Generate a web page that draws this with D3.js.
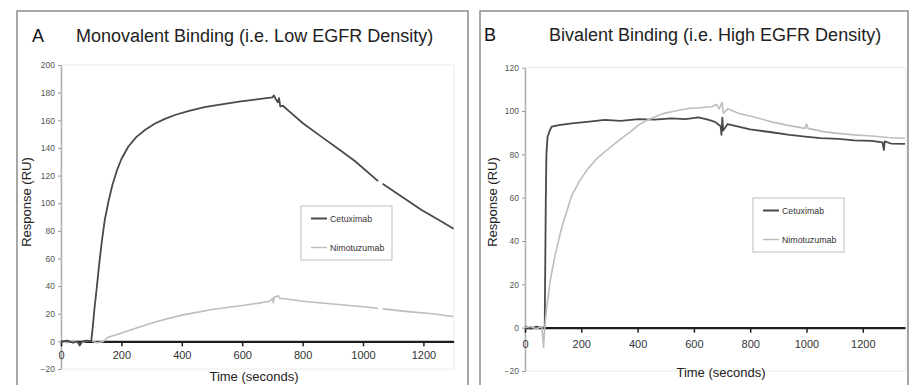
<!DOCTYPE html>
<html><head><meta charset="utf-8">
<script src="https://cdn.jsdelivr.net/npm/d3@7"></script>
<style>
html,body{margin:0;padding:0;background:#fff;}
svg{display:block;font-family:"Liberation Sans",Arial,sans-serif;}
</style></head>
<body><svg id="chart" width="911" height="385"></svg>
<script>
// ---------- data ----------
const seriesNames = ["Cetuximab", "Nimotuzumab"];
const xTicks = [0, 200, 400, 600, 800, 1000, 1200];
const yTicksA = [-20, 0, 20, 40, 60, 80, 100, 120, 140, 160, 180, 200];
const yTicksB = [-20, 0, 20, 40, 60, 80, 100, 120];

// Panel A: Monovalent binding (time s, response RU); null = gap
const cetuximabA_t = [0,20,40,55,62,70,85,100,105,110,118,126,135,145,157,170,184,200,223,250,278,310,344,380,421,475,532,590,642,680,700,705,712,718,722,726,735,753,800,863,920,973,1050,1058,1065,1130,1194,1250,1300];
const cetuximabA_v = [0,0.5,-1,0,-3,0,0.5,0,10,22,38,55,72,88,101,113,123,132,141,148,153,157.5,161,164,166.7,169.5,171.5,173.5,175,176,176.5,178,175,173,176,170,170.5,167,158,148,139,130.5,116,null,114,104.5,95,88,81.5];
const nimotuzumabA_t = [0,20,40,60,80,100,120,140,157,200,240,311,400,500,600,650,690,700,703,706,720,725,735,800,900,1000,1050,1058,1065,1150,1230,1300];
const nimotuzumabA_v = [0,-1,0.5,-2,0,0.5,-1,0,3,6,9,14,19,23,26,27.5,29,31,28,32,33,31,31,29,27,25,24,null,23.5,21.5,20,18];

// Panel B: Bivalent binding
const cetuximabB_t = [0,20,40,60,70,72,74,76,80,88,95,120,166,220,284,340,403,460,521,570,616,650,675,695,698,701,704,720,758,800,876,940,995,1050,1113,1170,1232,1270,1275,1278,1300,1350];
const cetuximabB_v = [0.5,-0.5,0.5,0,0,30,60,80,88,91,92.8,93.5,94.3,95,95.9,95.5,96.3,96,96.6,96.3,97.1,96,95,93,89,97,91,94,92.8,91.5,90.2,89,88.2,87.5,87.1,86.5,86.2,85.5,82,86,85,84.8];
const nimotuzumabB_t = [0,20,40,60,66,70,77,90,107,130,166,195,225,255,284,315,343,375,403,430,462,490,521,550,580,620,663,680,690,700,705,720,758,820,876,930,995,1000,1005,1060,1113,1170,1232,1290,1350];
const nimotuzumabB_v = [0,0.5,-0.5,0.5,-9,0,9,22,33.5,46,61,68,73.6,78,81.2,84.5,87.4,90.5,93.5,95.5,97.4,98.8,99.7,100.5,101.2,101.5,102,103,101,104,99,101,99,97,95,93.5,92,94,92,90.5,89.7,89,88.5,87.8,87.4];

const colors = {Cetuximab: "#4a4a4a", Nimotuzumab: "#bdbdbd"};

const svg = d3.select("#chart");

function zip(ts, vs){ return ts.map((t,i)=>({t:t, v:vs[i]})); }

function drawPanel(p){
  const g = svg.append("g");
  g.append("rect").attr("x",p.box[0]).attr("y",p.box[1]).attr("width",p.box[2]-p.box[0]).attr("height",p.box[3]-p.box[1])
    .attr("fill","none").attr("stroke","#8a8a8a").attr("stroke-width",1.5);
  g.append("text").attr("x",p.letterX).attr("y",p.titleY).attr("font-size",18).attr("fill","#111").text(p.letter);
  g.append("text").attr("x",p.titleX).attr("y",p.titleY).attr("font-size",18).attr("fill","#222").text(p.title);

  const x = d3.scaleLinear().domain([0,p.xMax]).range(p.xRange);
  const y = d3.scaleLinear().domain([p.yTicks[0], p.yTicks[p.yTicks.length-1]]).range(p.yRange);

  g.append("rect").attr("x",x(0)).attr("y",y.range()[1]).attr("width",p.plotRight-x(0)).attr("height",y.range()[0]-y.range()[1])
    .attr("fill","none").attr("stroke","#ececec").attr("stroke-width",1);

  const ya = g.append("g").attr("transform",`translate(${x(0)},0)`)
    .call(d3.axisLeft(y).tickValues(p.yTicks).tickFormat(d3.format("d")).tickSize(3).tickPadding(3).tickSizeOuter(0));
  ya.select(".domain").attr("stroke","#b0b0b0").attr("stroke-width",1.5);
  ya.selectAll(".tick line").attr("stroke","#999");
  ya.selectAll(".tick text").attr("font-size",8.5).attr("fill","#555").attr("font-family","Liberation Sans, Arial, sans-serif");

  const line = d3.line().defined(d=>d.v!==null).x(d=>x(d.t)).y(d=>y(d.v));
  const xa = g.append("g").attr("transform",`translate(0,${y(0)})`)
    .call(d3.axisBottom(x).tickValues(xTicks).tickFormat(d3.format("d")).tickSize(5).tickPadding(p.xPad).tickSizeOuter(0));
  xa.select(".domain").attr("stroke","#1e1e1e").attr("stroke-width",2.2);
  xa.selectAll(".tick line").attr("stroke","#1e1e1e").attr("stroke-width",1.5);
  xa.selectAll(".tick text").attr("font-size",11).attr("fill","#333").attr("font-family","Liberation Sans, Arial, sans-serif");

  p.series.forEach(s=>{
    g.append("path").datum(zip(s.t,s.v)).attr("d",line).attr("fill","none")
      .attr("stroke",colors[s.name]).attr("stroke-width",s.name==="Cetuximab"?1.8:1.6)
      .attr("stroke-linejoin","round");
  });

  g.append("text").attr("transform",`translate(${p.yTitleX},${p.yTitleY}) rotate(-90)`)
    .attr("text-anchor","middle").attr("font-size",13).attr("fill","#222").text("Response (RU)");
  g.append("text").attr("x",p.xTitleX).attr("y",p.xTitleY).attr("text-anchor","middle")
    .attr("font-size",13).attr("fill","#222").text("Time (seconds)");

  const L = p.legend;
  g.append("rect").attr("x",L[0]).attr("y",L[1]).attr("width",L[2]).attr("height",L[3])
    .attr("fill","#fff").attr("stroke","#bdbdbd").attr("stroke-width",1);
  seriesNames.forEach((n,i)=>{
    const ly = L[1] + 12.5 + i*29;
    g.append("line").attr("x1",L[0]+10).attr("x2",L[0]+26).attr("y1",ly).attr("y2",ly)
      .attr("stroke",colors[n]).attr("stroke-width",n==="Cetuximab"?2:1.5);
    g.append("text").attr("x",L[0]+29).attr("y",ly).attr("dy","0.35em").attr("font-size",8.8).attr("fill","#333").text(n);
  });
}

drawPanel({
  box:[17,11,468,400], letter:"A", letterX:32, title:"Monovalent Binding (i.e. Low EGFR Density)", titleX:76, titleY:42,
  xMax:1300, xRange:[61,453.6], yTicks:yTicksA, yRange:[369,65], plotRight:454, xPad:5,
  yTitleX:31, yTitleY:202, xTitleX:254, xTitleY:381,
  legend:[301,206,91,54],
  series:[
    {name:"Nimotuzumab", t:nimotuzumabA_t, v:nimotuzumabA_v},
    {name:"Cetuximab", t:cetuximabA_t, v:cetuximabA_v}
  ]
});
drawPanel({
  box:[480,11,908,400], letter:"B", letterX:484, title:"Bivalent Binding (i.e. High EGFR Density)", titleX:549, titleY:41,
  xMax:1350, xRange:[525,905], yTicks:yTicksB, yRange:[371,67.7], plotRight:906, xPad:8,
  yTitleX:497, yTitleY:202, xTitleX:721, xTitleY:377,
  legend:[753,198,91,54],
  series:[
    {name:"Cetuximab", t:cetuximabB_t, v:cetuximabB_v},
    {name:"Nimotuzumab", t:nimotuzumabB_t, v:nimotuzumabB_v}
  ]
});
</script></body></html>
